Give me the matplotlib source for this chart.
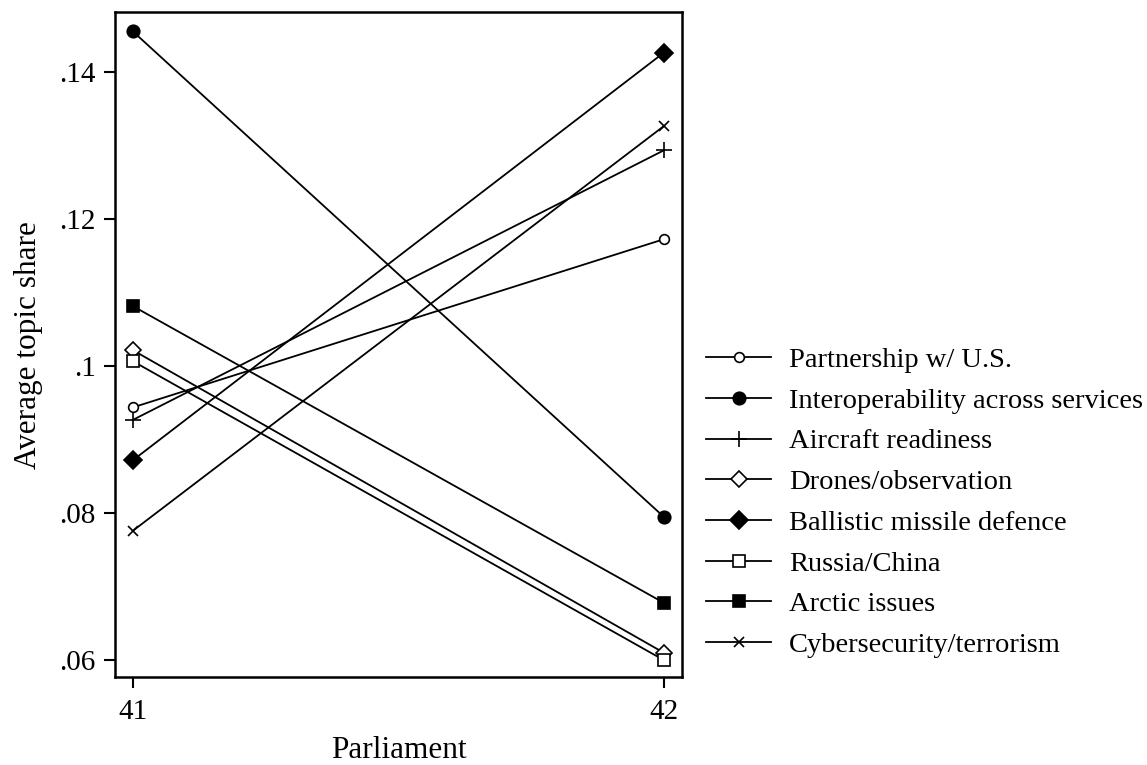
import numpy as np
import matplotlib.pyplot as plt
from matplotlib.ticker import FuncFormatter

plt.rcParams['font.family'] = ['Liberation Serif', 'DejaVu Serif']

parliament = [41, 42]
topics = ['Partnership w/ U.S.', 'Interoperability across services',
          'Aircraft readiness', 'Drones/observation',
          'Ballistic missile defence', 'Russia/China',
          'Arctic issues', 'Cybersecurity/terrorism']

partnership = [0.0944, 0.1173]
interop = [0.1456, 0.0795]
aircraft = [0.0927, 0.1294]
drones = [0.1022, 0.0610]
ballistic = [0.0872, 0.1427]
russia = [0.1007, 0.0600]
arctic = [0.1082, 0.0678]
cyber = [0.0776, 0.1327]

series = [partnership, interop, aircraft, drones, ballistic, russia, arctic, cyber]

# marker style per topic: (marker, size, filled)
styles = [('o', 7, False), ('o', 9, True), ('+', 11, True), ('D', 8, False),
          ('D', 9, True), ('s', 8, False), ('s', 9, True), ('x', 7, True)]

fig = plt.figure(figsize=(11.47, 7.65), dpi=100)
ax = fig.add_axes([0.1005, 0.115, 0.494, 0.869])

for name, vals, (m, ms, filled) in zip(topics, series, styles):
    ax.plot(parliament, vals, color='black', lw=1.3, marker=m, markersize=ms,
            markerfacecolor='black' if filled else 'white',
            markeredgecolor='black', markeredgewidth=1.2, label=name)

ax.set_xlim(40.967, 42.034)
ax.set_ylim(0.0577, 0.1482)
ax.set_xticks(parliament)
ax.set_yticks([0.06, 0.08, 0.10, 0.12, 0.14])
ax.yaxis.set_major_formatter(FuncFormatter(lambda v, p: ('%g' % round(v, 2)).lstrip('0')))
ax.tick_params(axis='both', direction='out', length=8, width=1.5, labelsize=21, pad=6)
ax.tick_params(axis='x', pad=8)

for s in ax.spines.values():
    s.set_linewidth(1.8)

ax.set_xlabel('Parliament', fontsize=22.5, labelpad=8)
ax.set_ylabel('Average topic share', fontsize=22.5, labelpad=12)

fig.legend(loc='center left', bbox_to_anchor=(0.603, 0.343), frameon=False,
           fontsize=20.5, handlelength=2.3, handletextpad=0.63, labelspacing=0.52,
           borderpad=0)

plt.savefig('out.png', dpi=100)
